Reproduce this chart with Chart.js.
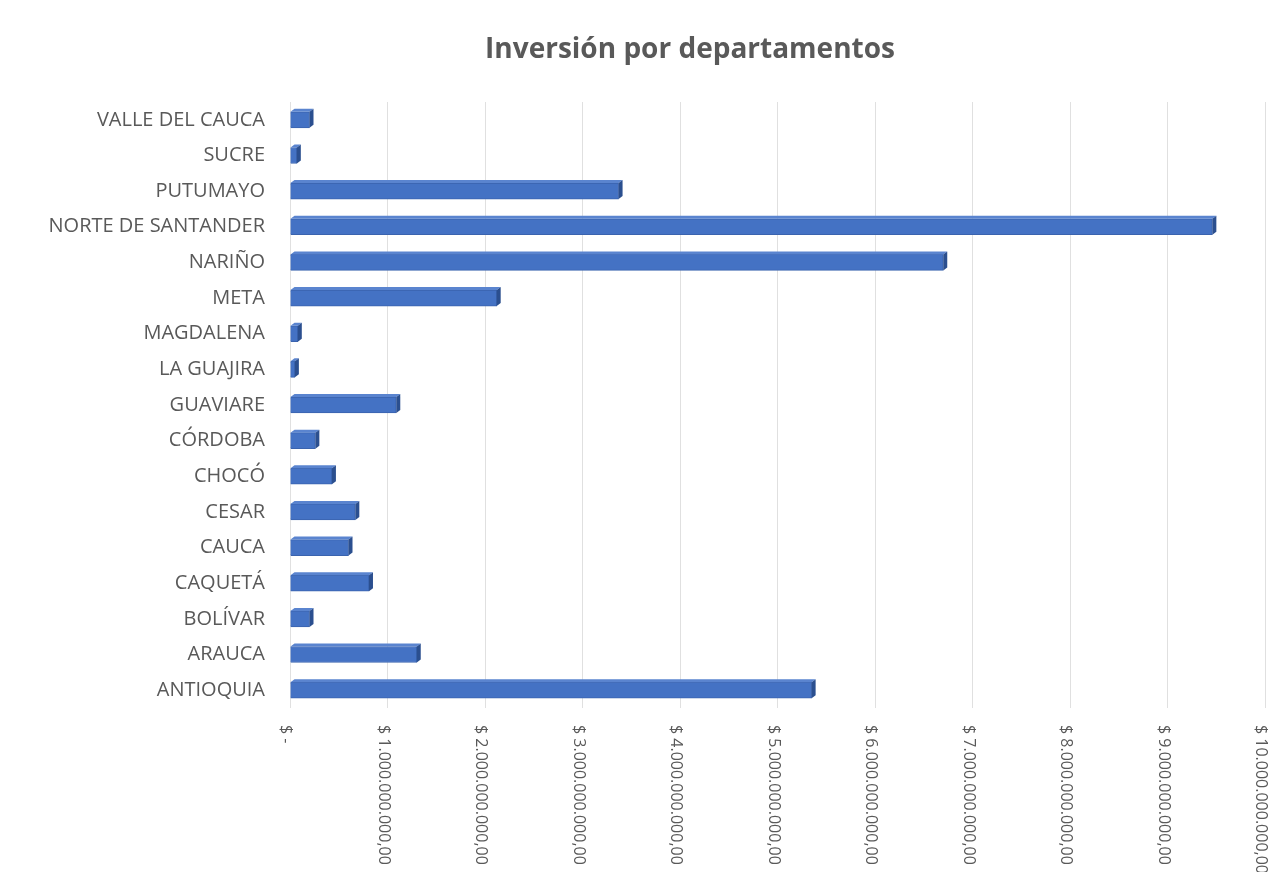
<!DOCTYPE html>
<html>
<head>
<meta charset="utf-8">
<script src="https://cdn.jsdelivr.net/npm/chart.js@4"></script>
<style>
  html, body { margin: 0; padding: 0; background: #fff; }
  #wrap { width: 1271px; height: 872px; }
</style>
</head>
<body>
<div id="wrap"><canvas id="inversion"></canvas></div>
<script>
const departamentos = [
  'VALLE DEL CAUCA', 'SUCRE', 'PUTUMAYO', 'NORTE DE SANTANDER', 'NARIÑO', 'META',
  'MAGDALENA', 'LA GUAJIRA', 'GUAVIARE', 'CÓRDOBA', 'CHOCÓ', 'CESAR', 'CAUCA',
  'CAQUETÁ', 'BOLÍVAR', 'ARAUCA', 'ANTIOQUIA',
]
const inversion = [
  200000000, 70000000, 3370000000, 9460000000, 6700000000, 2120000000,
  80000000, 50000000, 1090000000, 260000000, 430000000, 670000000, 600000000,
  810000000, 200000000, 1300000000, 5350000000,
]
const ticksX = [0, 1e9, 2e9, 3e9, 4e9, 5e9, 6e9, 7e9, 8e9, 9e9, 10e9]
const titulo = 'Inversión por departamentos'

const gris = '#595959'

function formatoPesos(v) {
  if (v === 0) return '$ -'
  const entero = String(Math.round(v)).replace(/\B(?=(\d{3})+(?!\d))/g, '.')
  return '$ ' + entero + ',00'
}

// efecto 3D simple: cara superior y lateral de cada barra
const barras3d = {
  id: 'barras3d',
  afterDatasetsDraw(chart) {
    const ctx = chart.ctx
    const dx = 4, dy = 3
    chart.getDatasetMeta(0).data.forEach((bar) => {
      const top = bar.y - bar.height / 2
      const bottom = bar.y + bar.height / 2
      ctx.save()
      ctx.fillStyle = '#5A84CF'
      ctx.beginPath()
      ctx.moveTo(bar.base, top)
      ctx.lineTo(bar.base + dx, top - dy)
      ctx.lineTo(bar.x + dx, top - dy)
      ctx.lineTo(bar.x, top)
      ctx.closePath()
      ctx.fill()
      ctx.fillStyle = '#2B4F8F'
      ctx.beginPath()
      ctx.moveTo(bar.x, top)
      ctx.lineTo(bar.x + dx, top - dy)
      ctx.lineTo(bar.x + dx, bottom - dy)
      ctx.lineTo(bar.x, bottom)
      ctx.closePath()
      ctx.fill()
      ctx.restore()
    })
  },
}

// titulo y etiquetas del eje x giradas 90 grados (lectura de arriba hacia abajo)
const textos = {
  id: 'textos',
  afterDraw(chart) {
    const scale = chart.scales.x
    const ctx = chart.ctx
    ctx.save()
    ctx.fillStyle = gris
    ctx.font = 'bold 28px "Open Sans"'
    ctx.textAlign = 'center'
    ctx.textBaseline = 'middle'
    ctx.fillText(titulo, 690, 50)

    ctx.font = '16px "Open Sans"'
    ctx.textAlign = 'left'
    scale.ticks.forEach((t) => {
      const x = scale.getPixelForValue(t.value) - 4
      ctx.save()
      ctx.translate(x, scale.top + 17)
      ctx.rotate(Math.PI / 2)
      ctx.fillText(formatoPesos(t.value), 0, 0)
      ctx.restore()
    })
    ctx.restore()
  },
}

const inversionData = {
  labels: departamentos,
  datasets: [
    {
      label: 'Inversión',
      data: inversion,
      backgroundColor: '#4472C4',
      borderColor: '#3A63AE',
      borderWidth: 1,
      barThickness: 16,
    },
  ],
}

const configInversion = {
  type: 'bar',
  data: inversionData,
  options: {
    indexAxis: 'y',
    responsive: true,
    maintainAspectRatio: false,
    animation: false,
    layout: {
      padding: { left: 0, right: 6, top: 102, bottom: 0 },
    },
    scales: {
      x: {
        min: 0,
        max: 10e9,
        afterBuildTicks(scale) {
          scale.ticks = ticksX.map((v) => ({ value: v }))
        },
        afterFit(scale) {
          scale.height = 164
        },
        ticks: { display: false },
        grid: { color: '#E0E0E0', drawTicks: false },
        border: { display: false },
      },
      y: {
        afterFit(scale) {
          scale.width = 290
        },
        ticks: {
          color: gris,
          padding: 25,
          font: { family: '"Open Sans"', size: 20 },
        },
        grid: { display: false, drawTicks: false },
        border: { display: false },
      },
    },
    plugins: {
      legend: { display: false },
      tooltip: { enabled: false },
      title: { display: false },
    },
  },
  plugins: [barras3d, textos],
}

const inversionChart = new Chart(document.getElementById('inversion'), configInversion)
</script>
</body>
</html>
